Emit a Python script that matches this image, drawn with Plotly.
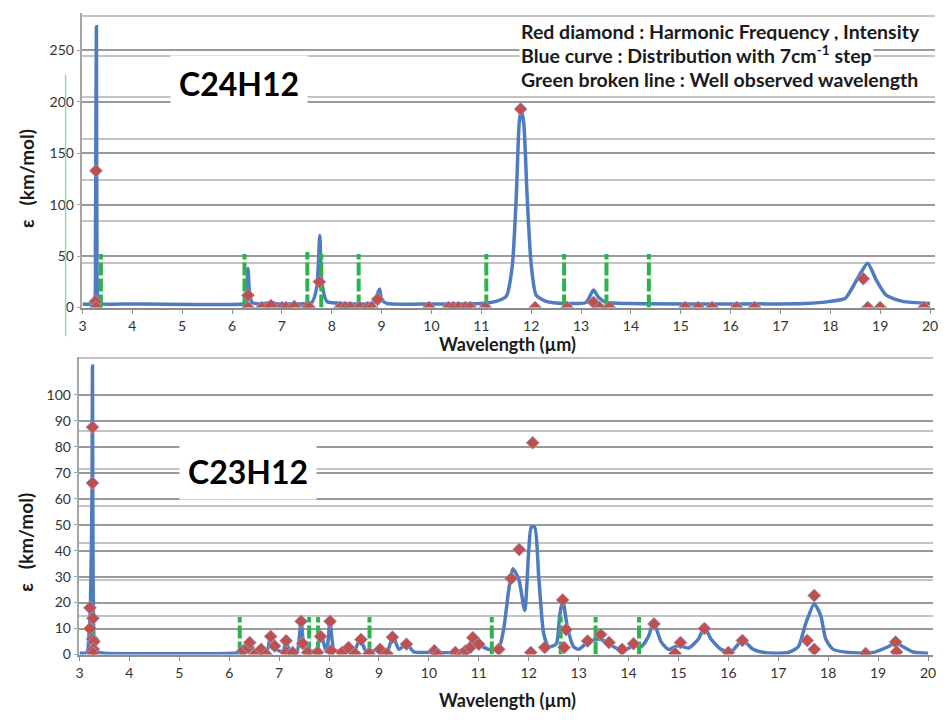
import plotly.graph_objects as go

# ---------------- data : C24H12 (top) ----------------
top_curve_x = [3.0, 3.2, 3.24, 3.26, 3.27, 3.28, 3.29, 3.31, 3.35, 4.0, 6.2, 6.27, 6.3, 6.32, 6.35, 6.4,
               6.6, 6.78, 6.9, 7.0, 7.3, 7.6, 7.7, 7.76, 7.8, 7.9, 8.2, 8.85, 8.93, 8.96, 9.0, 9.1,
               10.0, 11.0, 11.3, 11.5, 11.62, 11.7, 11.76, 11.8, 11.85, 11.92, 12.0, 12.1, 12.3, 12.7,
               13.1, 13.25, 13.35, 13.5, 14.0, 17.5, 18.0, 18.3, 18.6, 18.75, 18.92, 19.12, 19.45, 20.0]
top_curve_y = [3.5, 3.5, 5, 60, 180, 273, 60, 8, 4, 3.5, 3.5, 5, 20, 38, 15, 5,
               3.5, 5, 3.5, 3.5, 3.5, 5, 20, 70, 25, 6, 4, 5, 15, 18, 8, 4,
               3.5, 4, 6, 11, 40, 107, 180, 192, 180, 107, 42, 12, 6, 4,
               5, 17, 10, 5, 4, 4, 6, 9, 33, 43, 27, 12, 6, 4]

top_diam_x = [3.27, 3.26, 3.27, 6.32, 6.32, 6.6, 6.78, 7.0, 7.08, 7.25, 7.5, 7.55, 7.75,
              8.17, 8.27, 8.37, 8.56, 8.72, 8.8, 8.92, 9.95, 10.34, 10.44, 10.54, 10.68, 10.78,
              11.08, 11.79, 12.08, 12.72, 13.25, 13.37, 13.57, 15.09, 15.35, 15.63, 16.12, 16.48,
              18.66, 18.75, 19.0, 19.88]
top_diam_y = [133, 6, 0, 12, 0, 0, 2, 0, 0, 1, 0, 0, 25,
              0, 0, 0, 0, 0, 0, 8, 0, 0, 0, 0, 0, 0,
              0, 193, 0, 0, 5, 0, 0, 0, 0, 0, 0, 0,
              28, 0, 0, 0]

top_obs_x = [3.37, 6.25, 7.51, 7.79, 8.54, 11.1, 12.66, 13.51, 14.36]
top_obs_h = [52, 52, 54, 52, 52, 52, 52, 52, 52]

# ---------------- data : C23H12 (bottom) ----------------
bot_curve_x = [3.0, 3.15, 3.19, 3.22, 3.25, 3.26, 3.27, 3.29, 3.32, 3.36, 3.5, 6.1, 6.2, 6.3, 6.4, 6.5,
               6.6, 6.75, 6.83, 6.95, 7.07, 7.14, 7.22, 7.35, 7.44, 7.5, 7.6, 7.75, 7.83, 7.95,
               8.02, 8.1, 8.3, 8.4, 8.5, 8.62, 8.75, 9.0, 9.15, 9.28, 9.4, 9.55, 9.7, 10.0, 10.5,
               10.8, 10.9, 11.0, 11.2, 11.4, 11.5, 11.6, 11.68, 11.8, 11.92, 12.0, 12.05, 12.12,
               12.2, 12.3, 12.4, 12.55, 12.62, 12.68, 12.78, 12.9, 13.0, 13.2, 13.4, 13.55, 13.7,
               13.9, 14.1, 14.25, 14.4, 14.5, 14.65, 14.8, 15.0, 15.2, 15.4, 15.52, 15.65, 15.85,
               16.05, 16.28, 16.5, 16.75, 17.2, 17.4, 17.55, 17.72, 17.85, 17.95, 18.1, 18.5, 18.9,
               19.2, 19.35, 19.5, 19.7, 20.0]
bot_curve_y = [0.5, 0.8, 8, 20, 60, 111, 40, 6, 2, 1, 0.5, 0.5, 0.8, 2, 5, 1,
               2, 1, 7, 2, 1, 5, 1, 0.5, 13, 3, 1, 2, 8, 1,
               13, 2, 1, 3, 1, 6, 1, 2, 0.5, 7, 2, 4, 1, 0.8, 0.8,
               3, 7, 4, 2, 2.5, 10, 25, 33, 29, 17, 40, 49, 49,
               30, 8, 3, 4, 15, 21, 10, 3, 2, 5, 6, 5, 3,
               1.5, 3.5, 3, 7, 12.5, 5, 2, 3.5, 2.5, 6, 10.5, 6, 2,
               1, 5.5, 2, 0.7, 0.8, 3, 12, 19.5, 15, 6, 2, 0.7, 0.8,
               3, 4.5, 3, 1, 0.5]

bot_diam_x = [3.21, 3.21, 3.26, 3.26, 3.27, 3.26, 3.29, 3.28, 3.27,
              6.28, 6.38, 6.41, 6.51, 6.64, 6.74, 6.83, 6.91, 7.14, 7.14, 7.27, 7.44, 7.47, 7.57,
              7.77, 7.83, 8.02, 8.04, 8.26, 8.39, 8.52, 8.64, 8.8, 9.02, 9.16, 9.27, 9.55,
              10.11, 10.17, 10.53, 10.66, 10.73, 10.83, 10.88, 11.0, 11.4, 11.65, 11.81, 12.04,
              12.08, 12.32, 12.68, 12.75, 12.71, 13.18, 13.44, 13.61, 13.87, 14.1, 14.51, 14.93,
              15.04, 15.52, 16.0, 16.28, 17.58, 17.72, 17.72, 18.75, 19.35, 19.37]
bot_diam_y = [18, 10, 87.5, 66, 14, 6, 5, 2, 0.5,
              1.5, 2.7, 4.6, 0, 2, 0, 7, 3.3, 5.3, 0.8, 0.8, 12.8, 4.3, 0.8,
              0.8, 7, 12.8, 1.5, 0.8, 2.7, 0.3, 5.8, 0.3, 2, 0.3, 6.7, 4,
              1.5, 0, 0.8, 0, 1.4, 2.7, 6.5, 4, 2, 29.3, 40.4, 0.8,
              81.5, 2.7, 21, 9.6, 2.7, 5.2, 7.7, 4.6, 2, 4.2, 11.8, 0.4,
              4.6, 10, 0.8, 5.4, 5.4, 22.7, 2, 0.4, 4.8, 1]

bot_obs_x = [3.27, 6.21, 7.6, 7.78, 8.81, 11.26, 12.64, 13.34, 14.21]
bot_obs_h = [13, 14.5, 14.5, 14.5, 14.5, 14.5, 14.5, 14.5, 14.5]

x_ticks = list(range(3, 21))
x_tick_text = [str(v) for v in x_ticks]
top_y_ticks = [0, 50, 100, 150, 200, 250]
bot_y_ticks = [0, 10, 20, 30, 40, 50, 60, 70, 80, 90, 100]
# second (overlaid) set of faint rules visible in the source picture
top_extra_rules = [43, 84, 124, 164, 205, 245, 284]
bot_extra_rules = [14.8, 28.6, 43, 57, 71.5, 86, 114]

BLUE = "#4F7CC0"
RED = "#C0504D"
GREEN = "#2DB34A"
FONT = "Lato"
TXT = "#333333"

# page body keeps its default 8px margin: the figure fills the window inside it
OFF = 8
W, H = 949 - 2 * OFF, 720 - 2 * OFF


def PX(x):
    return (x - OFF) / W


def PY(y):
    return 1 - (y - OFF) / H


def seg(xs, hs):
    sx, sy = [], []
    for x, h in zip(xs, hs):
        sx += [x, x, None]
        sy += [0, h, None]
    return sx, sy


fig = go.Figure()

for (cx, cy, dx, dy, ox, oh, xa, ya) in [
    (top_curve_x, top_curve_y, top_diam_x, top_diam_y, top_obs_x, top_obs_h, "x", "y"),
    (bot_curve_x, bot_curve_y, bot_diam_x, bot_diam_y, bot_obs_x, bot_obs_h, "x2", "y2"),
]:
    fig.add_trace(go.Scatter(x=cx, y=cy, mode="lines", xaxis=xa, yaxis=ya,
                             line=dict(color=BLUE, width=3.5, shape="spline", smoothing=0.6),
                             showlegend=False, hoverinfo="skip"))
    gx, gy = seg(ox, oh)
    fig.add_trace(go.Scatter(x=gx, y=gy, mode="lines", xaxis=xa, yaxis=ya,
                             line=dict(color=GREEN, width=4, dash="13px,3px"),
                             showlegend=False, hoverinfo="skip"))
    fig.add_trace(go.Scatter(x=dx, y=dy, mode="markers", xaxis=xa, yaxis=ya,
                             marker=dict(symbol="diamond", size=10, color=RED,
                                         line=dict(color="#8FA3D0", width=0.8)),
                             showlegend=False, hoverinfo="skip"))

xaxis_common = dict(range=[3, 20.1], tickvals=x_ticks, ticktext=x_tick_text,
                    showgrid=False, zeroline=False, showline=True, linecolor="#8C8C8C",
                    linewidth=1.5, ticks="outside", ticklen=5, tickcolor="#8C8C8C",
                    tickfont=dict(family=FONT, size=14, color=TXT), fixedrange=True)
yaxis_common = dict(showgrid=True, gridcolor="#9A9A9A", gridwidth=1.5, zeroline=False,
                    showline=True, linecolor="#A6A6A6", linewidth=1.5,
                    ticks="outside", ticklen=4, tickcolor="#A6A6A6",
                    tickfont=dict(family=FONT, size=14, color=TXT), fixedrange=True)

fig.update_layout(
    width=W, height=H,
    margin=dict(l=0, r=0, t=0, b=0),
    paper_bgcolor="white", plot_bgcolor="white",
    xaxis=dict(domain=[PX(79), PX(938)], anchor="y", **xaxis_common),
    yaxis=dict(domain=[PY(311), PY(13)], range=[0, 286.5], anchor="x",
               tickvals=top_y_ticks,
               minor=dict(tickvals=top_extra_rules, showgrid=True, gridcolor="#C4C4C4",
                          gridwidth=1.5, ticks=""),
               **yaxis_common),
    xaxis2=dict(domain=[PX(76), PX(936)], anchor="y2", **xaxis_common),
    yaxis2=dict(domain=[PY(662), PY(361)], range=[0, 114.5], anchor="x2",
                tickvals=bot_y_ticks,
                minor=dict(tickvals=bot_extra_rules, showgrid=True, gridcolor="#C4C4C4",
                           gridwidth=1.5, ticks=""),
                **yaxis_common),
)

ann = []
ann.append(dict(text="<b>C24H12</b>", x=PX(237), y=PY(84), xref="paper", yref="paper",
                xanchor="center", yanchor="middle",
                showarrow=False, font=dict(family=FONT, size=32, color="black"),
                bgcolor="white", borderpad=8))
ann.append(dict(text="<b>C23H12</b>", x=PX(246), y=PY(477), xref="paper", yref="paper",
                xanchor="center", yanchor="middle",
                showarrow=False, font=dict(family=FONT, size=32, color="black"),
                bgcolor="white", borderpad=8))
legend_lines = ["Red diamond : Harmonic Frequency , Intensity",
                "Blue curve : Distribution with 7cm<sup>-1</sup> step",
                "Green broken line : Well observed wavelength"]
legend_y = [32, 55, 80]
for t, ly in zip(legend_lines, legend_y):
    ann.append(dict(text="<b>" + t + "</b>", x=PX(519), y=PY(ly),
                    xref="paper", yref="paper", xanchor="left", yanchor="middle",
                    showarrow=False, borderpad=1,
                    font=dict(family=FONT, size=19.5, color="#1A1A1A"), bgcolor="white"))
for yy in [348, 708]:
    ann.append(dict(text="<b>Wavelength (µm)</b>", x=PX(507), y=PY(yy),
                    xref="paper", yref="paper", xanchor="center", yanchor="middle",
                    showarrow=False, font=dict(family=FONT, size=18, color="#1A1A1A")))
for yy in [180, 548]:
    ann.append(dict(text="<b>ε   (km/mol)</b>", x=PX(22), y=PY(yy),
                    xref="paper", yref="paper", xanchor="center", yanchor="middle",
                    showarrow=False, textangle=-90,
                    font=dict(family=FONT, size=19, color="#1A1A1A")))
fig.update_layout(annotations=ann)

fig.add_shape(type="line", xref="paper", yref="paper", x0=PX(62), x1=PX(62),
              y0=PY(340), y1=PY(75), line=dict(color="#9FD8A8", width=1.5))

fig.write_html("out.html", config={"displayModeBar": False})
